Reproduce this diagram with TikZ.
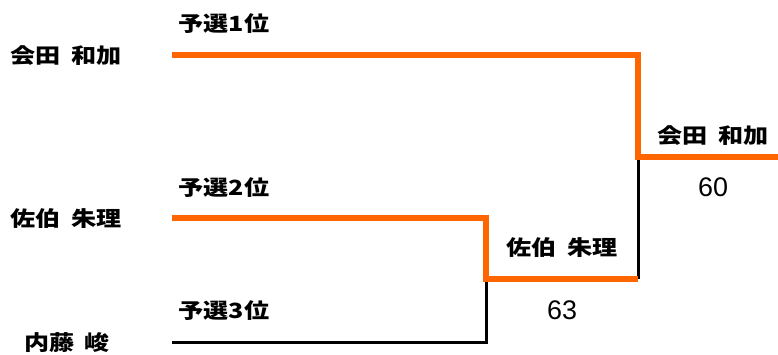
\documentclass[tikz,border=0pt]{standalone}
\usepackage{fontspec}
\newfontfamily\jpfont{Noto Sans CJK JP}[FakeStretch=1.2,WordSpace=1.8]
\newfontfamily\numfont{Liberation Sans}
\usetikzlibrary{positioning}
\definecolor{winorange}{HTML}{FF6600}

\tikzset{
  player/.style={inner sep=0pt, font=\jpfont\bfseries\fontsize{21}{21}\selectfont},
  seed/.style={inner sep=0pt, font=\jpfont\bfseries\fontsize{21}{21}\selectfont},
  score/.style={inner sep=0pt, font=\numfont\fontsize{27}{27}\selectfont},
  winline/.style={draw=winorange, line width=6bp},
  loseline/.style={draw=black, line width=3bp}
}

\begin{document}
\begin{tikzpicture}[x=1bp,y=1bp]
  \useasboundingbox (0,0) rectangle (778,354);

  % entrants
  \node[player] (aida)  at (66,298) {会田 和加};
  \node[player] (saeki) at (66,135) {佐伯 朱理};
  \node[player] (naito) at (67,11)  {内藤 峻};

  \node[seed] (seed1) at (224,330) {予選1位};
  \node[seed] (seed2) at (224,166) {予選2位};
  \node[seed] (seed3) at (224,43)  {予選3位};

  % bracket corners
  \coordinate (a0) at (172,299);
  \coordinate (a1) at (638,299);
  \coordinate (b0) at (172,136);
  \coordinate (b1) at (486,136);
  \coordinate (c0) at (172,12);
  \coordinate (c1) at (486,12);
  \coordinate (s0) at (486,75);
  \coordinate (s1) at (638,75);
  \coordinate (f0) at (638,197);
  \coordinate (f1) at (778,197);

  % results
  \node[player] (semi)  at (562,106) {佐伯 朱理};
  \node[score]  (semisc) at (562,44) {63};
  \node[player] (final) at (713,218) {会田 和加};
  \node[score]  (finsc) at (713,167) {60};

  \draw[loseline] (c0) -- (c1) -- (s0);
  \draw[loseline] (s1) -- (f0);
  \draw[winline] (b0) -- (b1) -- (s0) -- (s1);
  \draw[winline] (a0) -- (a1) -- (f0) -- (f1);
\end{tikzpicture}
\end{document}
